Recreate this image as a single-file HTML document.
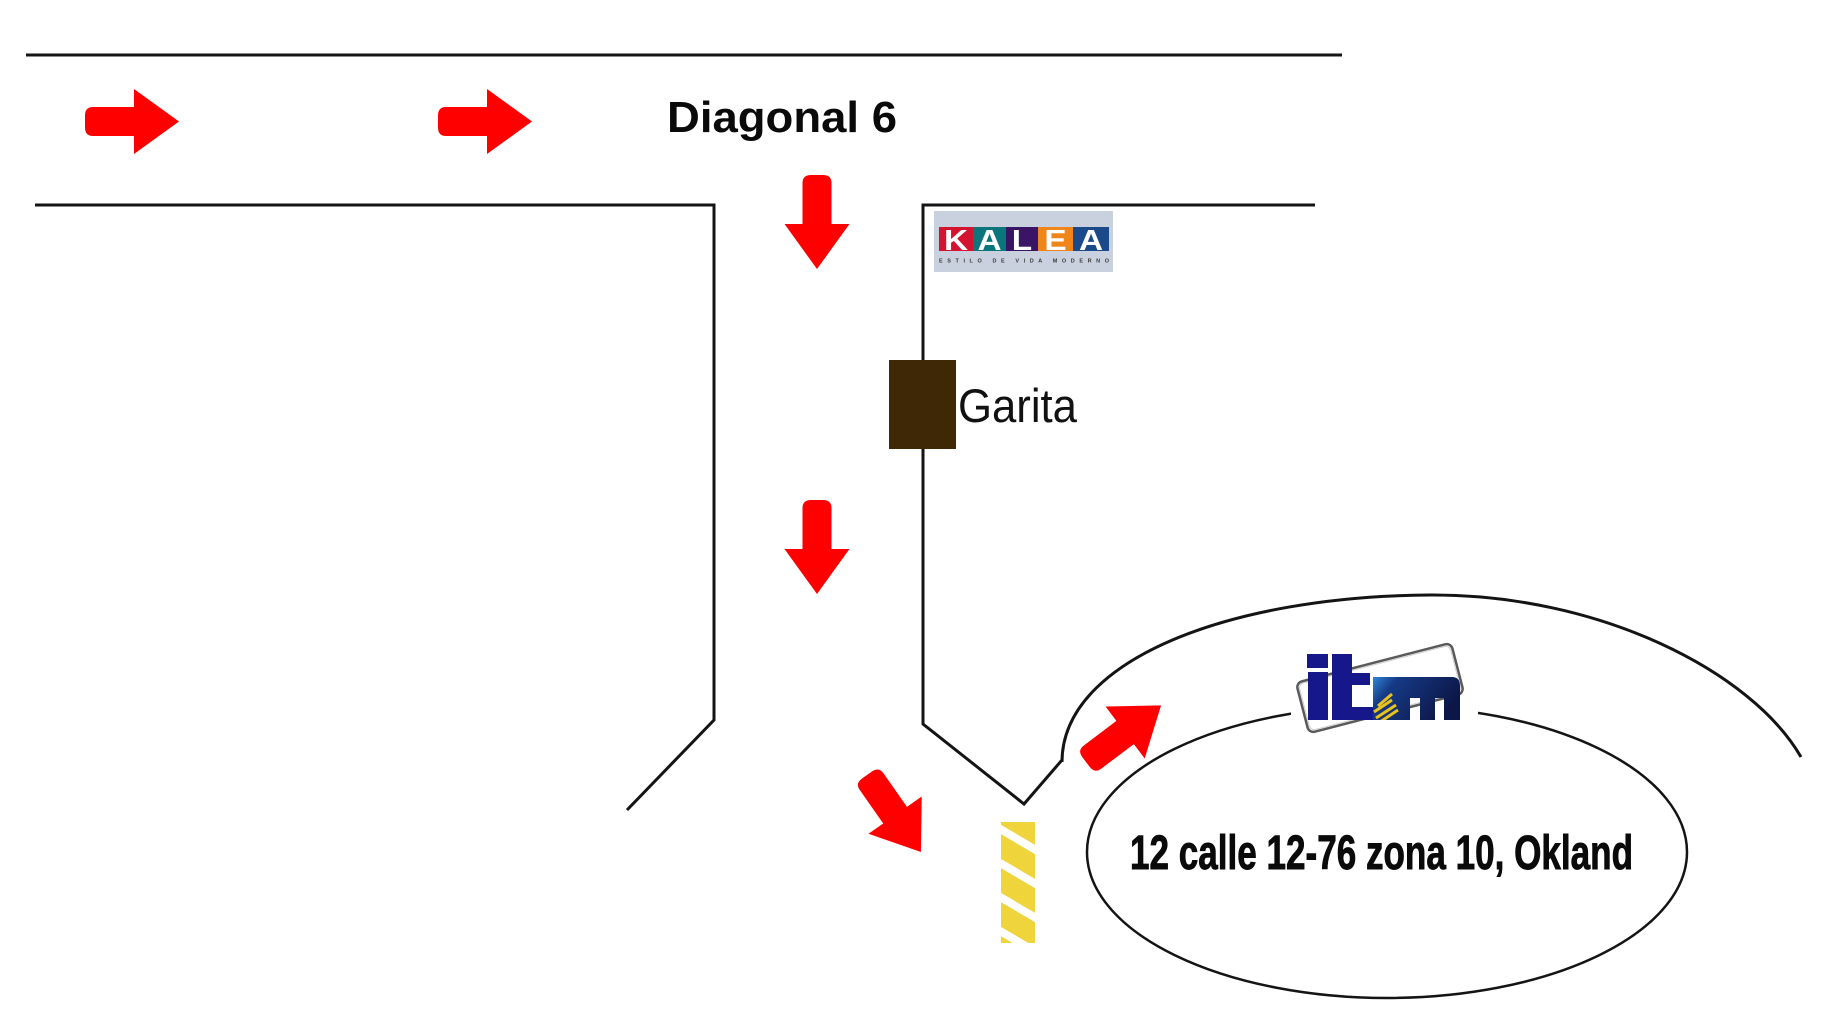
<!DOCTYPE html>
<html>
<head>
<meta charset="utf-8">
<style>
  html,body{margin:0;padding:0;background:#fff;}
  body{width:1821px;height:1035px;overflow:hidden;}
  svg{display:block;}
</style>
</head>
<body>
<svg width="1821" height="1035" viewBox="0 0 1821 1035" xmlns="http://www.w3.org/2000/svg">
  <defs>
    <path id="arr" d="M0,-6 Q0,-14.5 8,-14.5 L49,-14.5 L49,-32.5 L94,0 L49,32.5 L49,14.5 L8,14.5 Q0,14.5 0,6 Z" fill="#ff0000"/>
    <clipPath id="hatchclip"><rect x="1001" y="822" width="34" height="121"/></clipPath>
    <linearGradient id="mgrad" x1="0" y1="0" x2="1" y2="0.4">
      <stop offset="0" stop-color="#2f86d8"/>
      <stop offset="0.25" stop-color="#163a86"/>
      <stop offset="1" stop-color="#0c1748"/>
    </linearGradient>
    <clipPath id="mclip">
      <path d="M1373,677 L1452,677 Q1460,677 1460,686 L1460,720 L1444,720 L1444,698 L1435,698 L1435,720 L1420,720 L1420,698 L1410,698 L1410,720 L1373,720 Z"/>
    </clipPath>
  </defs>

  <!-- street lines -->
  <g fill="none" stroke="#141414" stroke-width="3" stroke-linejoin="miter">
    <line x1="26" y1="55" x2="1342" y2="55"/>
    <polyline points="35,205 714,205 714,720 627,810"/>
    <polyline points="1315,205 923,205 923,724 1024,804 1062,760"/>
    <path d="M1062,762 C1062,660 1230,596 1430,595 C1600,594 1752,672 1801,757"/>
  </g>

  <!-- inner ellipse -->
  <ellipse cx="1387" cy="852" rx="300" ry="146" fill="none" stroke="#141414" stroke-width="2.5"/>

  <!-- Diagonal 6 -->
  <text x="667" y="132" font-family="'Liberation Sans', sans-serif" font-weight="bold" font-size="44" fill="#0a0a0a" textLength="230" lengthAdjust="spacingAndGlyphs">Diagonal 6</text>

  <!-- arrows -->
  <use href="#arr" transform="translate(85,121.5)"/>
  <use href="#arr" transform="translate(438,121.5)"/>
  <use href="#arr" transform="translate(817,175) rotate(90)"/>
  <use href="#arr" transform="translate(817,500) rotate(90)"/>
  <use href="#arr" transform="translate(867,775) rotate(55)"/>
  <use href="#arr" transform="translate(1086,762) rotate(-37)"/>

  <!-- KALEA logo -->
  <rect x="934" y="211" width="179" height="61" fill="#c9d1df"/>
  <rect x="939" y="227" width="34" height="24" fill="#d3132f"/>
  <rect x="973" y="227" width="33" height="24" fill="#0a767b"/>
  <rect x="1006" y="227" width="32" height="24" fill="#3a1565"/>
  <rect x="1038" y="227" width="35" height="24" fill="#f0861a"/>
  <rect x="1073" y="227" width="36" height="24" fill="#1b4a8b"/>
  <g font-family="'Liberation Sans', sans-serif" font-weight="bold" font-size="29" fill="#ffffff" text-anchor="middle">
    <text x="956" y="250" transform="translate(956,0) scale(1.15,1) translate(-956,0)">K</text>
    <text x="989.5" y="250" transform="translate(989.5,0) scale(1.15,1) translate(-989.5,0)">A</text>
    <text x="1022" y="250" transform="translate(1022,0) scale(1.15,1) translate(-1022,0)">L</text>
    <text x="1055.5" y="250" transform="translate(1055.5,0) scale(1.15,1) translate(-1055.5,0)">E</text>
    <text x="1091" y="250" transform="translate(1091,0) scale(1.15,1) translate(-1091,0)">A</text>
  </g>
  <text x="939" y="262.5" font-family="'Liberation Sans', sans-serif" font-weight="bold" font-size="5.5" fill="#3a3a3a" textLength="170" lengthAdjust="spacing">ESTILO DE VIDA MODERNO</text>

  <!-- Garita -->
  <rect x="889" y="360" width="67" height="89" fill="#3e2806"/>
  <text x="958" y="422" font-family="'Liberation Sans', sans-serif" font-size="47" fill="#111" textLength="119" lengthAdjust="spacingAndGlyphs">Garita</text>

  <!-- yellow hatched -->
  <rect x="1001" y="822" width="34" height="121" fill="#f0d43c"/>
  <g clip-path="url(#hatchclip)" stroke="#ffffff" stroke-width="8">
    <line x1="995" y1="794" x2="1041" y2="821"/>
    <line x1="995" y1="826" x2="1041" y2="853"/>
    <line x1="995" y1="860" x2="1041" y2="887"/>
    <line x1="995" y1="894" x2="1041" y2="921"/>
    <line x1="995" y1="928" x2="1041" y2="955"/>
  </g>

  <!-- itm logo -->
  <rect x="1291" y="697" width="187" height="20" fill="#fff"/>
  <rect x="-80" y="-26" width="160" height="52" rx="6" transform="translate(1380,688) rotate(-14.5)" fill="none" stroke="#5a5a5a" stroke-width="2.5"/>
  <rect x="-78" y="-24" width="156" height="48" rx="5" transform="translate(1380,688) rotate(-14.5)" fill="none" stroke="#cfcfcf" stroke-width="1"/>
  <g fill="#17178c">
    <rect x="1307" y="654" width="21" height="14"/>
    <rect x="1308" y="672" width="20" height="48"/>
    <rect x="1332" y="654" width="20" height="66"/>
    <rect x="1332" y="673" width="38" height="12"/>
    <rect x="1332" y="707" width="41" height="13"/>
  </g>
  <g clip-path="url(#mclip)">
    <rect x="1373" y="677" width="87" height="43" fill="url(#mgrad)"/>
    <g stroke="#e8c21a" stroke-width="3">
      <line x1="1374" y1="712" x2="1392" y2="700"/>
      <line x1="1376" y1="718" x2="1396" y2="705"/>
      <line x1="1380" y1="722" x2="1398" y2="710"/>
      <line x1="1378" y1="706" x2="1392" y2="694"/>
    </g>
  </g>

  <!-- address -->
  <text x="1130" y="869" font-family="'Liberation Sans Narrow', 'Liberation Sans', sans-serif" font-weight="bold" font-size="48" fill="#0a0a0a" stroke="#0a0a0a" stroke-width="0.9" textLength="503" lengthAdjust="spacingAndGlyphs">12 calle 12-76 zona 10, Okland</text>
</svg>
</body>
</html>
